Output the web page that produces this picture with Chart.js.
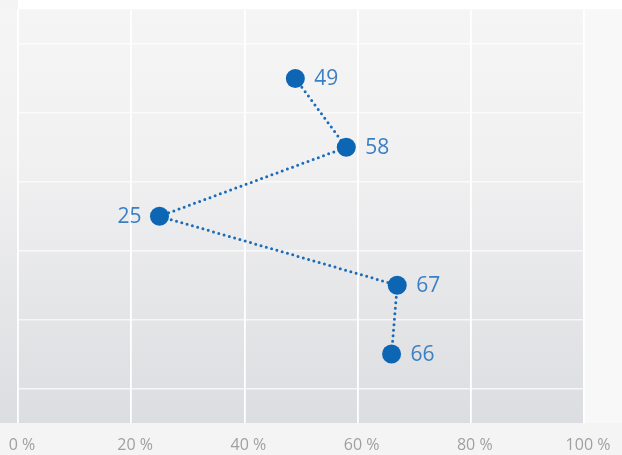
<!DOCTYPE html>
<html>
<head>
<meta charset="utf-8">
<script src="https://cdn.jsdelivr.net/npm/chart.js@4/dist/chart.umd.min.js"></script>
<style>
  html, body { margin: 0; padding: 0; background: #f5f5f5; }
  #wrap { width: 622px; height: 455px; }
</style>
</head>
<body>
<div id="wrap"><canvas id="dotChart" width="622" height="455"></canvas></div>
<script>
// values, top row first
var rows = [1, 2, 3, 4, 5];
var values = [49, 58, 25, 67, 66];
var labelSide = ['right', 'right', 'left', 'right', 'right'];
var xTicks = [0, 20, 40, 60, 80, 100];

var points = [];
for (var i = 0; i < values.length; i++) {
  points.push({ x: values[i], y: rows[i] });
}

// paint the page + gradient plot background
var bgPlugin = {
  id: 'bg',
  beforeDraw: function (chart) {
    var ctx = chart.ctx, a = chart.chartArea;
    ctx.save();
    ctx.fillStyle = '#f4f4f4';
    ctx.fillRect(0, 0, chart.width, chart.height);
    ctx.fillStyle = '#ffffff';
    ctx.fillRect(a.left, 0, chart.width - a.left, a.top);
    ctx.fillStyle = '#f8f8f8';
    ctx.fillRect(a.right, a.top, chart.width - a.right, a.bottom - a.top);
    var g = ctx.createLinearGradient(0, a.top, 0, a.bottom);
    g.addColorStop(0, '#f5f5f5');
    g.addColorStop(0.35, '#f1f1f2');
    g.addColorStop(1, '#dcdde0');
    ctx.fillStyle = g;
    ctx.fillRect(0, a.top, a.right, a.bottom - a.top);
    ctx.restore();
  }
};

// value labels beside each point
var valueLabels = {
  id: 'valueLabels',
  afterDatasetsDraw: function (chart) {
    var ctx = chart.ctx;
    var meta = chart.getDatasetMeta(0);
    ctx.save();
    ctx.font = '21px "Open Sans", sans-serif';
    ctx.fillStyle = '#3b7fc4';
    ctx.textBaseline = 'middle';
    meta.data.forEach(function (pt, i) {
      if (labelSide[i] === 'left') {
        ctx.textAlign = 'right';
        ctx.fillText(values[i], pt.x - 18, pt.y + 1);
      } else {
        ctx.textAlign = 'left';
        ctx.fillText(values[i], pt.x + 19, pt.y + 1);
      }
    });
    ctx.restore();
  }
};

var chart = new Chart('dotChart', {
  type: 'line',
  data: {
    datasets: [{
      data: points,
      borderColor: '#1a6cba',
      borderWidth: 3,
      borderDash: [0, 5.5],
      borderCapStyle: 'round',
      fill: false,
      tension: 0,
      pointRadius: 9.5,
      pointHoverRadius: 9.5,
      pointBackgroundColor: '#0d66b3',
      pointBorderColor: '#0d66b3',
      pointBorderWidth: 0
    }]
  },
  options: {
    responsive: false,
    animation: false,
    layout: { padding: { top: 7, right: 38, left: 0, bottom: 0 } },
    plugins: {
      legend: { display: false },
      tooltip: { enabled: false }
    },
    scales: {
      x: {
        type: 'linear',
        min: 0,
        max: 100,
        afterBuildTicks: function (scale) {
          scale.ticks = xTicks.map(function (v) { return { value: v }; });
        },
        afterFit: function (scale) {
          scale.height = 32;
          scale.paddingLeft = 0;
          scale.paddingRight = 0;
        },
        grid: { color: '#ffffff', lineWidth: 1.8, drawTicks: false },
        border: { display: false },
        ticks: {
          padding: 13,
          labelOffset: 4,
          color: '#a0a0a0',
          font: { family: '"Open Sans", sans-serif', size: 16 },
          maxRotation: 0,
          callback: function (v) { return v + ' %'; }
        }
      },
      y: {
        type: 'linear',
        min: 0,
        max: 6,
        reverse: true,
        afterBuildTicks: function (scale) {
          scale.ticks = [0.5, 1.5, 2.5, 3.5, 4.5, 5.5].map(function (v) { return { value: v }; });
        },
        afterFit: function (scale) { scale.width = 18; },
        grid: { color: 'rgba(255,255,255,0.7)', lineWidth: 1.5, drawTicks: false },
        border: { display: false },
        ticks: { display: false }
      }
    }
  },
  plugins: [bgPlugin, valueLabels]
});
</script>
</body>
</html>
